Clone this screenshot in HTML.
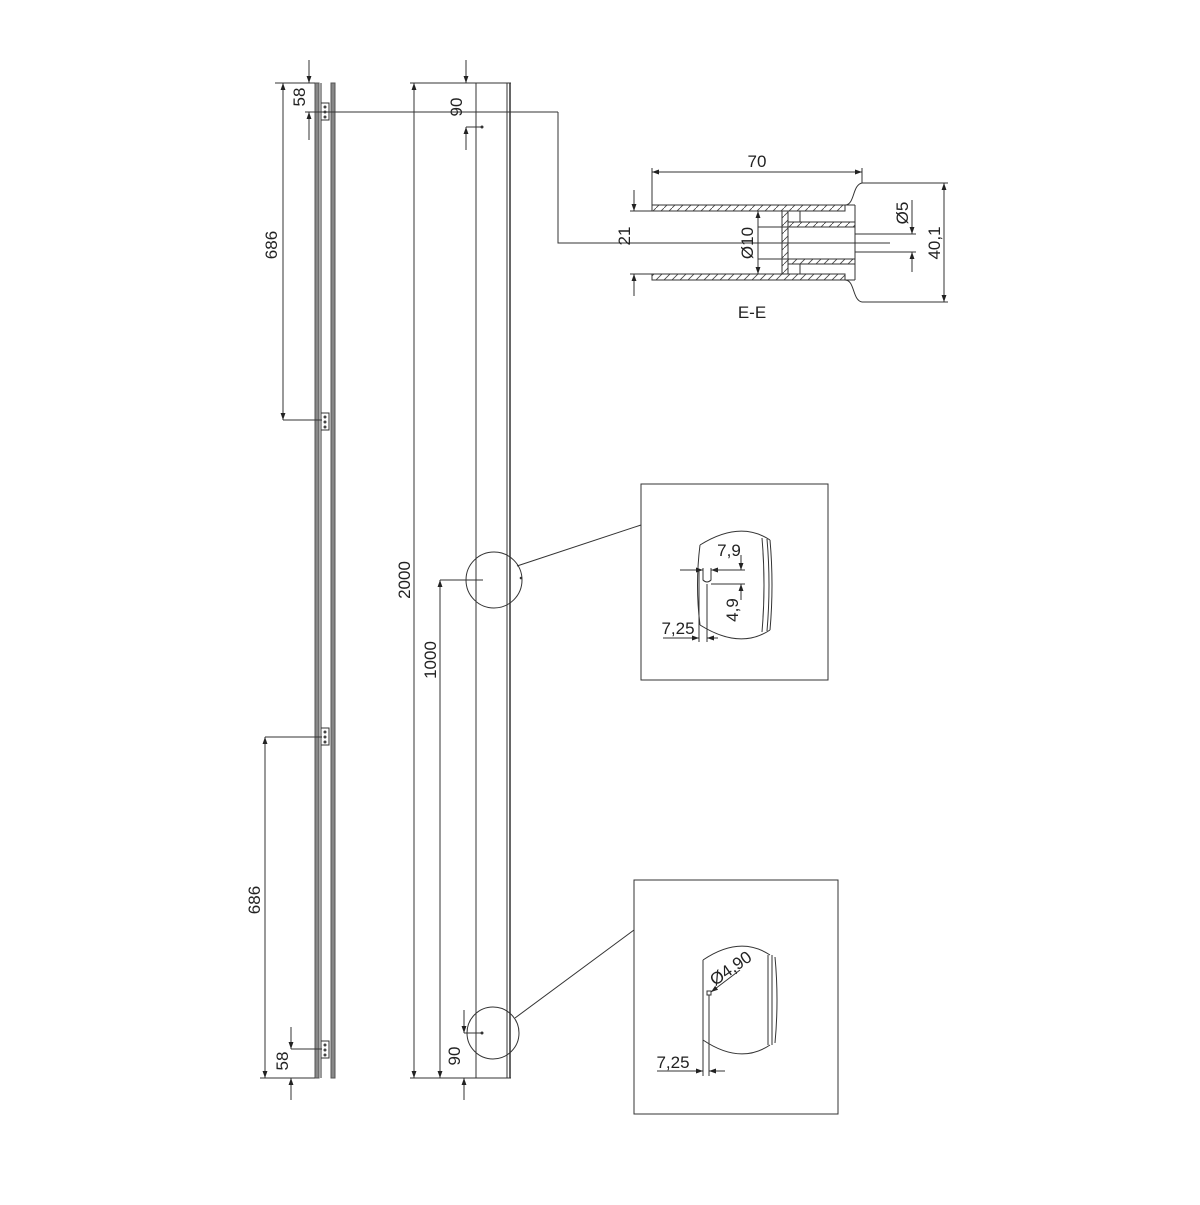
<!DOCTYPE html>
<html><head><meta charset="utf-8"><style>
html,body{margin:0;padding:0;background:#fff}
text{font-family:"Liberation Sans",sans-serif;font-size:17px;fill:#222}
</style></head><body>
<svg width="1200" height="1200" viewBox="0 0 1200 1200" xmlns="http://www.w3.org/2000/svg">
<defs>
<marker id="a" viewBox="0 0 10 10" refX="10" refY="5" markerWidth="10" markerHeight="7" orient="auto-start-reverse" markerUnits="userSpaceOnUse"><path d="M0,1.5 L10,5 L0,8.5z" fill="#222"/></marker>
<pattern id="h" width="8" height="8" patternUnits="userSpaceOnUse"><path d="M0,8 L8,0" stroke="#444" stroke-width="0.8"/></pattern>
</defs>
<g stroke="#333" fill="none" stroke-width="1">
<rect x="315" y="83" width="4" height="995" fill="#888" stroke="#555"/>
<rect x="331" y="83" width="4" height="995" fill="#888" stroke="#555"/>
<line x1="321" y1="83" x2="321" y2="1078"/>
<g fill="#fff">
<rect x="321" y="103" width="8" height="17"/><rect x="321" y="413" width="8" height="17"/>
<rect x="321" y="728" width="8" height="17"/><rect x="321" y="1041" width="8" height="17"/>
</g>
<g fill="#444" stroke="none">
<circle cx="325" cy="107" r="1.5"/><circle cx="325" cy="112" r="1.5"/><circle cx="325" cy="117" r="1.5"/>
<circle cx="325" cy="417" r="1.5"/><circle cx="325" cy="422" r="1.5"/><circle cx="325" cy="427" r="1.5"/>
<circle cx="325" cy="732" r="1.5"/><circle cx="325" cy="737" r="1.5"/><circle cx="325" cy="742" r="1.5"/>
<circle cx="325" cy="1045" r="1.5"/><circle cx="325" cy="1050" r="1.5"/><circle cx="325" cy="1055" r="1.5"/>
</g>
<line x1="476" y1="83" x2="476" y2="1078"/>
<line x1="507" y1="83" x2="507" y2="1078"/>
<line x1="510" y1="83" x2="510" y2="1078" stroke-width="1.5"/>
<line x1="476" y1="83" x2="511" y2="83"/><line x1="476" y1="1078" x2="511" y2="1078"/>
<line x1="275" y1="83" x2="315" y2="83"/>
<line x1="305" y1="112" x2="558" y2="112"/>
<line x1="309" y1="60" x2="309" y2="83" marker-end="url(#a)"/>
<line x1="309" y1="140" x2="309" y2="112" marker-end="url(#a)"/>
<line x1="283" y1="83" x2="283" y2="420" marker-start="url(#a)" marker-end="url(#a)"/>
<line x1="283" y1="420" x2="322" y2="420"/>
<line x1="265" y1="737" x2="265" y2="1078" marker-start="url(#a)" marker-end="url(#a)"/>
<line x1="265" y1="737" x2="322" y2="737"/>
<line x1="260" y1="1078" x2="315" y2="1078"/>
<line x1="291" y1="1049" x2="322" y2="1049"/>
<line x1="291" y1="1027" x2="291" y2="1049" marker-end="url(#a)"/>
<line x1="291" y1="1100" x2="291" y2="1078" marker-end="url(#a)"/>
<line x1="410" y1="83" x2="476" y2="83"/>
<line x1="410" y1="1078" x2="476" y2="1078"/>
<line x1="414" y1="83" x2="414" y2="1078" marker-start="url(#a)" marker-end="url(#a)"/>
<line x1="440" y1="580" x2="440" y2="1078" marker-start="url(#a)" marker-end="url(#a)"/>
<line x1="440" y1="580" x2="483" y2="580"/>
<line x1="466" y1="60" x2="466" y2="83" marker-end="url(#a)"/>
<line x1="466" y1="150" x2="466" y2="127" marker-end="url(#a)"/>
<line x1="466" y1="127" x2="482" y2="127"/>
<circle cx="482" cy="127" r="1" fill="#333"/>
<line x1="464" y1="1010" x2="464" y2="1033" marker-end="url(#a)"/>
<line x1="464" y1="1100" x2="464" y2="1078" marker-end="url(#a)"/>
<line x1="464" y1="1033" x2="482" y2="1033"/>
<circle cx="482" cy="1033" r="1" fill="#333"/>
<circle cx="494" cy="580" r="28"/>
<circle cx="521" cy="578" r="0.8" fill="#333"/>
<line x1="517" y1="566" x2="641" y2="525"/>
<circle cx="493" cy="1033" r="26"/>
<line x1="515" y1="1018" x2="634" y2="930"/>
<rect x="641" y="484" width="187" height="196"/>
<rect x="634" y="880" width="204" height="234"/>
<polyline points="558,112 558,243 890,243"/>
<rect x="652" y="205" width="193" height="6" fill="url(#h)"/>
<rect x="652" y="274" width="193" height="6" fill="url(#h)"/>
<path d="M845,205 C855,205 852,185 862,183"/>
<path d="M845,280 C855,280 852,300 862,302"/>
<line x1="845" y1="205" x2="855" y2="205"/><line x1="845" y1="280" x2="855" y2="280"/>
<line x1="855" y1="205" x2="855" y2="280"/>
<rect x="782" y="211" width="6" height="63" fill="url(#h)"/>
<rect x="788" y="222" width="67" height="5" fill="url(#h)"/>
<rect x="788" y="259" width="67" height="5" fill="url(#h)"/>
<line x1="800" y1="211" x2="800" y2="222"/><line x1="800" y1="264" x2="800" y2="274"/>
<line x1="630" y1="211" x2="652" y2="211"/><line x1="630" y1="274" x2="652" y2="274"/>
<line x1="652" y1="211" x2="652" y2="168"/>
<line x1="862" y1="183" x2="862" y2="168"/>
<line x1="652" y1="172" x2="862" y2="172" marker-start="url(#a)" marker-end="url(#a)"/>
<line x1="634" y1="190" x2="634" y2="211" marker-end="url(#a)"/>
<line x1="634" y1="296" x2="634" y2="274" marker-end="url(#a)"/>
<line x1="758" y1="211" x2="758" y2="274" marker-start="url(#a)" marker-end="url(#a)"/>
<line x1="758" y1="227" x2="800" y2="227"/><line x1="758" y1="259" x2="800" y2="259"/>
<line x1="862" y1="183" x2="948" y2="183"/><line x1="862" y1="302" x2="948" y2="302"/>
<line x1="944" y1="183" x2="944" y2="302" marker-start="url(#a)" marker-end="url(#a)"/>
<line x1="855" y1="234" x2="916" y2="234"/><line x1="855" y1="252" x2="916" y2="252"/>
<line x1="912" y1="200" x2="912" y2="234" marker-end="url(#a)"/>
<line x1="912" y1="272" x2="912" y2="252" marker-end="url(#a)"/>
<path d="M700,545 Q740,520 770,540 M700,625 Q740,650 770,630"/>
<path d="M700,545 Q695,585 700,625"/>
<path d="M762,538 Q766,585 762,632 M767,539 Q771,585 767,631 M770,540 Q774,585 770,630"/>
<path d="M703,568 L703,580 Q707,584 711,580 L711,568"/>
<line x1="680" y1="570" x2="703" y2="570" marker-end="url(#a)"/>
<line x1="730" y1="570" x2="711" y2="570" marker-end="url(#a)"/>
<line x1="711" y1="570" x2="745" y2="570"/>
<line x1="711" y1="584" x2="745" y2="584"/>
<line x1="741" y1="555" x2="741" y2="570" marker-end="url(#a)"/>
<line x1="741" y1="600" x2="741" y2="584" marker-end="url(#a)"/>
<line x1="699" y1="570" x2="699" y2="642"/><line x1="707" y1="584" x2="707" y2="642"/>
<line x1="663" y1="638" x2="699" y2="638" marker-end="url(#a)"/>
<line x1="718" y1="638" x2="707" y2="638" marker-end="url(#a)"/>
<path d="M703,960 Q740,935 770,955 M703,1040 Q740,1065 770,1045"/>
<path d="M703,960 L703,1040 M772,955 L772,1045 M768,955 L768,1045 M775,957 Q779,1000 775,1043"/>
<rect x="707" y="991" width="4" height="4"/>
<line x1="740" y1="970" x2="711" y2="992" marker-end="url(#a)"/>
<line x1="703" y1="1040" x2="703" y2="1076"/><line x1="709" y1="995" x2="709" y2="1076"/>
<line x1="657" y1="1071" x2="703" y2="1071" marker-end="url(#a)"/>
<line x1="725" y1="1071" x2="709" y2="1071" marker-end="url(#a)"/>
</g>
<g>
<text transform="translate(305,97) rotate(-90)" text-anchor="middle">58</text>
<text transform="translate(277,245) rotate(-90)" text-anchor="middle">686</text>
<text transform="translate(260,900) rotate(-90)" text-anchor="middle">686</text>
<text transform="translate(288,1061) rotate(-90)" text-anchor="middle">58</text>
<text transform="translate(410,580) rotate(-90)" text-anchor="middle">2000</text>
<text transform="translate(436,660) rotate(-90)" text-anchor="middle">1000</text>
<text transform="translate(462,107) rotate(-90)" text-anchor="middle">90</text>
<text transform="translate(460,1056) rotate(-90)" text-anchor="middle">90</text>
<text x="757" y="167" text-anchor="middle">70</text>
<text transform="translate(630,236) rotate(-90)" text-anchor="middle">21</text>
<text transform="translate(753,243) rotate(-90)" text-anchor="middle">Ø10</text>
<text transform="translate(908,213) rotate(-90)" text-anchor="middle">Ø5</text>
<text transform="translate(940,243) rotate(-90)" text-anchor="middle">40,1</text>
<text x="752" y="318" text-anchor="middle">E-E</text>
<text x="729" y="556" text-anchor="middle">7,9</text>
<text transform="translate(738,610) rotate(-90)" text-anchor="middle">4,9</text>
<text x="678" y="634" text-anchor="middle">7,25</text>
<text transform="translate(734,973) rotate(-35)" text-anchor="middle">Ø4,90</text>
<text x="673" y="1068" text-anchor="middle">7,25</text>
</g>
</svg>
</body></html>
